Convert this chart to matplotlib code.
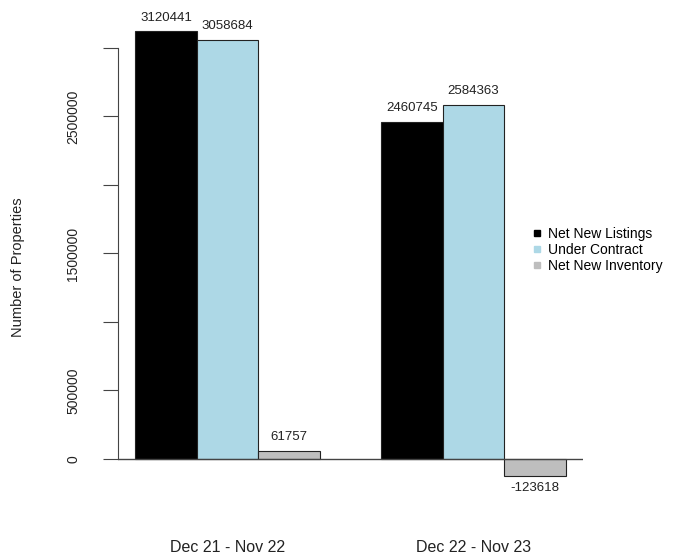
import numpy as np
import matplotlib
matplotlib.use("Agg")
import matplotlib.pyplot as plt
from matplotlib.lines import Line2D
import matplotlib.transforms as mtransforms

plt.rcParams['font.family'] = ['Liberation Sans', 'DejaVu Sans']

# data
periods = ['Dec 21 - Nov 22', 'Dec 22 - Nov 23']
series = ['Net New Listings', 'Under Contract', 'Net New Inventory']
net_new_listings = [3120441, 2460745]
under_contract = [3058684, 2584363]
net_new_inventory = [61757, -123618]
colors = ['black', '#ADD8E6', '#BEBEBE']

values = [net_new_listings, under_contract, net_new_inventory]

W, H = 691, 558
fig = plt.figure(figsize=(W / 100, H / 100), dpi=100)

# axes placed in pixel terms, R barplot style
x0, x1 = 118, 583
y_top, y_bot = 13.7, 493.7
ax = fig.add_axes([x0 / W, 1 - y_bot / H, (x1 - x0) / W, (y_bot - y_top) / H])

# R beside=TRUE layout: bars width 1, one bar gap between groups
for g in range(len(periods)):
    for s in range(len(series)):
        x = 1.5 + g * 4 + s
        v = values[s][g]
        ax.bar(x, v, width=1.0, color=colors[s], edgecolor='#222222', linewidth=0.8)
        if v >= 0:
            ax.text(x, v + 55000, str(v), ha='center', va='bottom', fontsize=9.5,
                    color='#222222')
        else:
            ax.text(x, v - 45000, str(v), ha='center', va='top', fontsize=9.5,
                    color='#222222')

ax.set_xlim(0.72, 8.28)
ax.set_ylim(-253380, 3250203)
ax.axhline(0, color='#444444', linewidth=1.0)

for sp in ['top', 'right', 'bottom']:
    ax.spines[sp].set_visible(False)
ax.spines['left'].set_bounds(0, 3000000)
ax.spines['left'].set_color('#444444')
ax.set_xticks([])

yt = np.arange(0, 3000001, 500000)
ax.set_yticks(yt)
ax.set_yticklabels(['0', '500000', '', '1500000', '', '2500000', ''],
                   rotation=90, va='center', fontsize=10, color='#222222')
ax.tick_params(axis='y', length=11, width=0.8, color='#444444', pad=16)

# group labels far below the plot
trans = mtransforms.blended_transform_factory(ax.transData, fig.transFigure)
for g, lab in enumerate(periods):
    ax.text(2.5 + g * 4, 1 - 548 / H, lab, transform=trans, ha='center',
            va='center', fontsize=11.5, color='#222222')

fig.text(18 / W, 1 - 267 / H, 'Number of Properties', rotation=90,
         ha='center', va='center', fontsize=10.5, color='#222222')

handles = [Line2D([], [], marker='s', linestyle='', color=c, markersize=4)
           for c in colors]
fig.legend(handles, series, loc='center left',
           bbox_to_anchor=(530 / W, 1 - 250 / H), frameon=False,
           fontsize=10, handletextpad=0.3, handlelength=1.0,
           labelspacing=0.12, borderaxespad=0, borderpad=0)

fig.savefig('out.png', dpi=100)
